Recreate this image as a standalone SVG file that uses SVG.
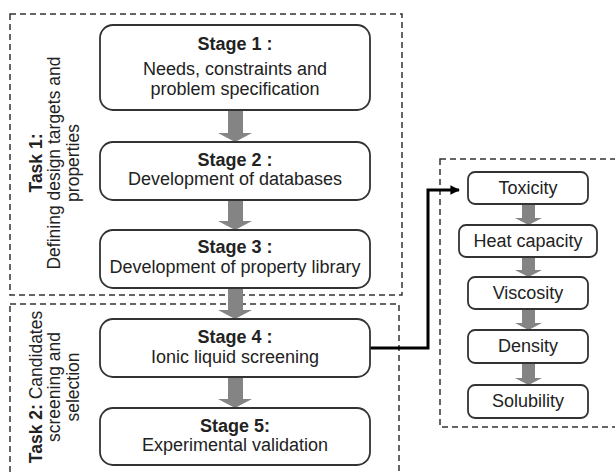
<svg xmlns="http://www.w3.org/2000/svg" width="615" height="475" viewBox="0 0 615 475">
<defs>
<style>
.grp{fill:none;stroke:#333;stroke-width:1.5;stroke-dasharray:6 4}
.box{fill:#fff;stroke:#333;stroke-width:1.8}
.t{font-family:"Liberation Sans",Arial,sans-serif;font-size:18px;fill:#222;text-anchor:middle}
.r{font-size:17.5px}
.b{font-weight:bold}
.blk{fill:#848484}
.link{fill:none;stroke:#000;stroke-width:3}
</style>
<marker id="ah" viewBox="0 0 10 10" refX="9" refY="5" markerWidth="3.2" markerHeight="3.2" orient="auto" markerUnits="strokeWidth">
<path d="M0,0 L10,5 L0,10 z" fill="#000"/>
</marker>
</defs>
<rect width="615" height="475" fill="#fff"/>

<g id="task1">
<rect class="grp" x="10" y="14" width="392" height="281"/>
<text class="t r" transform="translate(42,163) rotate(-90)"><tspan class="b">Task 1:</tspan></text>
<text class="t r" transform="translate(60,163) rotate(-90)">Defining design targets and</text>
<text class="t r" transform="translate(79,163) rotate(-90)">properties</text>
</g>
<g id="task2">
<rect class="grp" x="10" y="304" width="389" height="180"/>
<text class="t r" transform="translate(42,387) rotate(-90)"><tspan class="b">Task 2:</tspan> Candidates</text>
<text class="t r" transform="translate(60,387) rotate(-90)">screening and</text>
<text class="t r" transform="translate(79,387) rotate(-90)">selection</text>
</g>
<g id="properties-group">
<rect class="grp" x="440" y="159" width="185" height="268"/>
</g>

<g id="connectors">
<path class="blk" d="M228,110 H243 V133 H252 L235,142 L218,133 H228 Z"/>
<path class="blk" d="M228,200 H243 V221 H252 L235,230 L218,221 H228 Z"/>
<path class="blk" d="M228,288 H243 V310 H252 L235,319 L218,310 H228 Z"/>
<path class="blk" d="M228,377 H243 V399 H252 L235,408 L218,399 H228 Z"/>
<path class="blk" d="M522,204 H535 V218 H542 L528.5,225 L515,218 H522 Z"/>
<path class="blk" d="M522,257 H535 V270 H542 L528.5,277 L515,270 H522 Z"/>
<path class="blk" d="M522,309 H535 V323 H542 L528.5,330 L515,323 H522 Z"/>
<path class="blk" d="M522,363 H535 V378 H542 L528.5,385 L515,378 H522 Z"/>
<path class="link" d="M370,348 H428 V190 H459" marker-end="url(#ah)"/>
</g>

<g id="stage1">
<rect class="box" x="100" y="25" width="270" height="85" rx="13"/>
<text class="t b" x="235" y="50">Stage 1 :</text>
<text class="t" x="235" y="75">Needs, constraints and</text>
<text class="t" x="235" y="95">problem specification</text>
</g>
<g id="stage2">
<rect class="box" x="100" y="142" width="270" height="58" rx="13"/>
<text class="t b" x="235" y="166">Stage 2 :</text>
<text class="t" x="235" y="185">Development of databases</text>
</g>
<g id="stage3">
<rect class="box" x="100" y="230" width="270" height="58" rx="13"/>
<text class="t b" x="235" y="253">Stage 3 :</text>
<text class="t" x="235" y="273">Development of property library</text>
</g>
<g id="stage4">
<rect class="box" x="100" y="319" width="270" height="58" rx="13"/>
<text class="t b" x="235" y="343">Stage 4 :</text>
<text class="t" x="235" y="363">Ionic liquid screening</text>
</g>
<g id="stage5">
<rect class="box" x="100" y="408" width="270" height="57" rx="13"/>
<text class="t b" x="235" y="432">Stage 5:</text>
<text class="t" x="235" y="451">Experimental validation</text>
</g>

<g id="toxicity">
<rect class="box" x="468" y="172" width="120" height="32" rx="7"/>
<text class="t" x="528" y="194">Toxicity</text>
</g>
<g id="heat-capacity">
<rect class="box" x="459" y="225" width="138" height="32" rx="7"/>
<text class="t" x="528" y="247">Heat capacity</text>
</g>
<g id="viscosity">
<rect class="box" x="468" y="277" width="120" height="32" rx="7"/>
<text class="t" x="528" y="299">Viscosity</text>
</g>
<g id="density">
<rect class="box" x="468" y="330" width="120" height="33" rx="7"/>
<text class="t" x="528" y="352">Density</text>
</g>
<g id="solubility">
<rect class="box" x="468" y="385" width="120" height="33" rx="7"/>
<text class="t" x="528" y="407">Solubility</text>
</g>
</svg>
